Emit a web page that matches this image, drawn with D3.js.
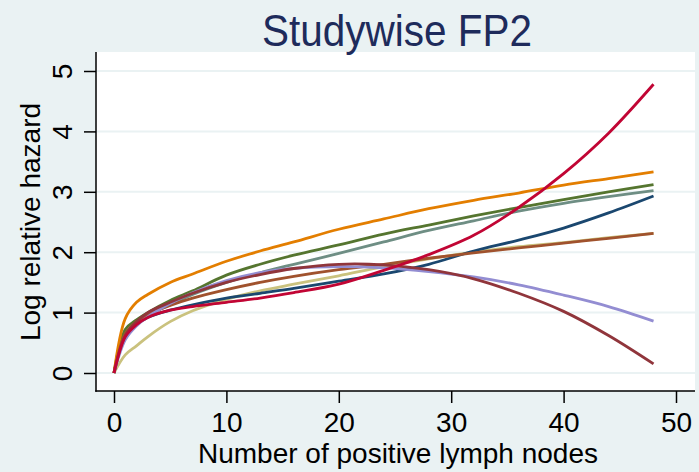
<!DOCTYPE html>
<html>
<head>
<meta charset="utf-8">
<script src="https://cdn.jsdelivr.net/npm/d3@7"></script>
<style>
  html, body { margin: 0; padding: 0; background: #eaf2f3; }
  svg { display: block; }
  text { font-family: "Liberation Sans", Arial, Helvetica, sans-serif; }
</style>
</head>
<body>
<svg id="chart" width="699" height="472"></svg>
<script>
// Number of positive lymph nodes at which each curve is evaluated
const nodes = [0, 1, 2, 3, 5, 7, 10, 13, 16, 20, 24, 28, 32, 36, 40, 44, 48];

// Log relative hazard, one array per study
const navy      = [0, 0.60, 0.80, 0.92, 1.04, 1.13, 1.24, 1.32, 1.40, 1.52, 1.64, 1.80, 2.02, 2.20, 2.40, 2.65, 2.93];
const maroon    = [0, 0.62, 0.85, 1.00, 1.17, 1.32, 1.50, 1.63, 1.73, 1.80, 1.79, 1.71, 1.56, 1.32, 1.02, 0.62, 0.15];
const forest    = [0, 0.72, 0.88, 1.00, 1.20, 1.36, 1.62, 1.80, 1.95, 2.12, 2.30, 2.45, 2.60, 2.74, 2.87, 3.00, 3.12];
const dkorange  = [0, 0.90, 1.17, 1.30, 1.50, 1.64, 1.85, 2.02, 2.17, 2.38, 2.55, 2.72, 2.86, 2.98, 3.11, 3.22, 3.33];
const teal      = [0, 0.65, 0.82, 0.95, 1.13, 1.30, 1.50, 1.66, 1.80, 1.98, 2.17, 2.36, 2.52, 2.68, 2.81, 2.92, 3.02];
const cranberry = [0, 0.60, 0.80, 0.92, 1.04, 1.10, 1.17, 1.24, 1.33, 1.47, 1.70, 1.96, 2.28, 2.74, 3.30, 3.97, 4.78];
const lavender  = [0, 0.55, 0.78, 0.93, 1.15, 1.33, 1.53, 1.66, 1.73, 1.76, 1.74, 1.68, 1.59, 1.46, 1.29, 1.10, 0.86];
const khaki     = [0, 0.30, 0.45, 0.60, 0.85, 1.03, 1.22, 1.36, 1.47, 1.61, 1.76, 1.89, 2.00, 2.09, 2.16, 2.24, 2.31];
const sienna    = [0, 0.65, 0.85, 0.97, 1.12, 1.24, 1.38, 1.50, 1.60, 1.71, 1.80, 1.90, 1.99, 2.07, 2.15, 2.23, 2.31];

const xTicks = [0, 10, 20, 30, 40, 50];
const yTicks = [0, 1, 2, 3, 4, 5];

const title = "Studywise FP2";
const xTitle = "Number of positive lymph nodes";
const yTitle = "Log relative hazard";

// Drawing order (later lines on top)
const seriesList = [
  { values: khaki,     color: "#cac27e" },
  { values: navy,      color: "#1a476f" },
  { values: teal,      color: "#6e8e84" },
  { values: forest,    color: "#55752f" },
  { values: dkorange,  color: "#e37e00" },
  { values: sienna,    color: "#a0522d" },
  { values: lavender,  color: "#938dd2" },
  { values: maroon,    color: "#90353b" },
  { values: cranberry, color: "#c10534" }
];

const W = 699, H = 472;
const plot = { left: 96, right: 695, top: 52, bottom: 391 };

const x = d3.scaleLinear().domain([0, 50]).range([114, 676]);
const y = d3.scaleLinear().domain([0, 5]).range([373, 71]);

const svg = d3.select("#chart");

svg.append("rect").attr("width", W).attr("height", H).attr("fill", "#eaf2f3");
svg.append("rect")
  .attr("x", plot.left).attr("y", plot.top)
  .attr("width", plot.right - plot.left).attr("height", plot.bottom - plot.top)
  .attr("fill", "#ffffff");

// horizontal grid lines
svg.append("g").selectAll("line").data(yTicks).join("line")
  .attr("x1", plot.left).attr("x2", plot.right)
  .attr("y1", d => y(d)).attr("y2", d => y(d))
  .attr("stroke", "#eaf2f3").attr("stroke-width", 2);

// curves
const line = d3.line()
  .x((d, i) => x(nodes[i]))
  .y(d => y(d))
  .curve(d3.curveCatmullRom.alpha(0.5));

svg.append("g").selectAll("path").data(seriesList).join("path")
  .attr("d", s => line(s.values))
  .attr("fill", "none")
  .attr("stroke", s => s.color)
  .attr("stroke-width", 2.8)
  .attr("stroke-linejoin", "round");

// x axis
const gx = svg.append("g").attr("transform", `translate(0,${plot.bottom})`)
  .call(d3.axisBottom(x).tickValues(xTicks).tickSize(12).tickPadding(8).tickFormat(d3.format("d")));
gx.select(".domain").remove();
gx.selectAll(".tick line").attr("stroke", "#000").attr("stroke-width", 1.5);
gx.selectAll(".tick text").attr("font-size", 28).attr("fill", "#000")
  .attr("font-family", "Liberation Sans, Arial, sans-serif").attr("dy", "0.75em");
svg.append("line").attr("x1", plot.left - 0.75).attr("x2", plot.right)
  .attr("y1", plot.bottom).attr("y2", plot.bottom)
  .attr("stroke", "#000").attr("stroke-width", 1.5);

// y axis with rotated labels
const gy = svg.append("g").attr("transform", `translate(${plot.left},0)`)
  .call(d3.axisLeft(y).tickValues(yTicks).tickSize(12).tickFormat(d3.format("d")));
gy.select(".domain").remove();
gy.selectAll(".tick line").attr("stroke", "#000").attr("stroke-width", 1.5);
gy.selectAll(".tick text")
  .attr("font-size", 28).attr("fill", "#000")
  .attr("font-family", "Liberation Sans, Arial, sans-serif")
  .attr("text-anchor", "middle")
  .attr("transform", "rotate(-90)")
  .attr("x", 0).attr("y", -24).attr("dy", 0);
svg.append("line").attr("x1", plot.left).attr("x2", plot.left)
  .attr("y1", plot.top).attr("y2", plot.bottom + 0.75)
  .attr("stroke", "#000").attr("stroke-width", 1.5);

// titles
svg.append("text").attr("x", 397).attr("y", 46)
  .attr("text-anchor", "middle").attr("font-size", 44).attr("fill", "#1e2b5b")
  .attr("textLength", 270).attr("lengthAdjust", "spacingAndGlyphs")
  .text(title);

svg.append("text").attr("x", (x(0) + x(50)) / 2 + 3).attr("y", 463)
  .attr("text-anchor", "middle").attr("font-size", 28).attr("fill", "#000")
  .text(xTitle);

svg.append("text")
  .attr("transform", `translate(40,${(y(0) + y(5)) / 2}) rotate(-90)`)
  .attr("text-anchor", "middle").attr("font-size", 28).attr("fill", "#000")
  .text(yTitle);
</script>
</body>
</html>
